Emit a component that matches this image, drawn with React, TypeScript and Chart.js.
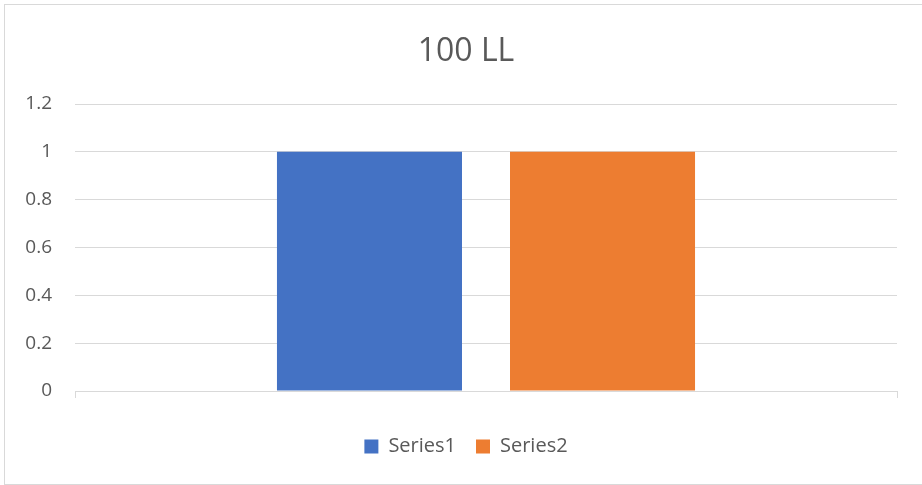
import React, { useEffect, useRef } from "react";
import { Chart, registerables } from "chart.js";

Chart.register(...registerables);

const categories = [""];
const series1Values = [1];
const series2Values = [1];
const seriesNames = ["Series1", "Series2"];
const yTickLabels = ["0", "0.2", "0.4", "0.6", "0.8", "1", "1.2"];
const chartTitle = "100 LL";

const FONT = "'Open Sans', 'Liberation Sans', sans-serif";
const TEXT = "#595959";
const GRID = "#d9d9d9";

const borderPlugin = {
  id: "outerBorder",
  afterDraw(chart: any) {
    const ctx = chart.ctx;
    ctx.save();
    ctx.strokeStyle = GRID;
    ctx.lineWidth = 1;
    ctx.strokeRect(4.5, 4.5, 930, 480);
    ctx.restore();
  },
};

export default function App() {
  const ref = useRef<HTMLCanvasElement | null>(null);

  useEffect(() => {
    if (!ref.current) return;
    const chart = new Chart(ref.current, {
      type: "bar",
      data: {
        labels: categories,
        datasets: [
          {
            label: seriesNames[0],
            data: series1Values,
            backgroundColor: "#4472C4",
            categoryPercentage: 0.567,
            barPercentage: 0.794,
          },
          {
            label: seriesNames[1],
            data: series2Values,
            backgroundColor: "#ED7D31",
            categoryPercentage: 0.567,
            barPercentage: 0.794,
          },
        ],
      },
      options: {
        responsive: false,
        animation: false,
        layout: { padding: { left: 10, right: 0, top: 0, bottom: 18.5 } },
        plugins: {
          title: {
            display: true,
            text: chartTitle,
            color: TEXT,
            font: { family: FONT, size: 32, weight: "normal", lineHeight: 1.2 },
            padding: { top: 32.4, bottom: 33.2 },
          },
          legend: {
            display: true,
            position: "bottom",
            labels: {
              color: TEXT,
              font: { family: FONT, size: 20 },
              boxWidth: 14,
              boxHeight: 14,
              padding: 20,
            },
          },
          tooltip: { enabled: false },
        },
        scales: {
          x: {
            grid: {
              display: true,
              drawOnChartArea: false,
              drawTicks: true,
              tickLength: 7,
              color: GRID,
              offset: true,
            },
            border: { display: true, color: GRID, width: 1 },
            ticks: { display: true },
            afterFit(scale: any) {
              scale.height = 25.5;
            },
          },
          y: {
            min: 0,
            max: 1.2,
            ticks: {
              stepSize: 0.2,
              color: TEXT,
              font: { family: FONT, size: 19 },
              padding: 23,
              callback: (_v: any, i: number) => yTickLabels[i],
            },
            grid: { color: GRID, drawTicks: false, lineWidth: 1 },
            border: { display: false },
            afterFit(scale: any) {
              scale.width = 65;
            },
          },
          yRight: {
            position: "right",
            display: true,
            grid: { display: false, drawTicks: false },
            border: { display: false },
            ticks: { display: false },
            afterFit(scale: any) {
              scale.width = 25;
            },
          },
        },
      },
      plugins: [borderPlugin],
    });
    return () => chart.destroy();
  }, []);

  return (
    <div style={{ position: "fixed", left: 0, top: 0, width: 922, height: 485, overflow: "hidden", background: "#fff" }}>
      <canvas ref={ref} width={922} height={485} style={{ display: "block" }} />
    </div>
  );
}
